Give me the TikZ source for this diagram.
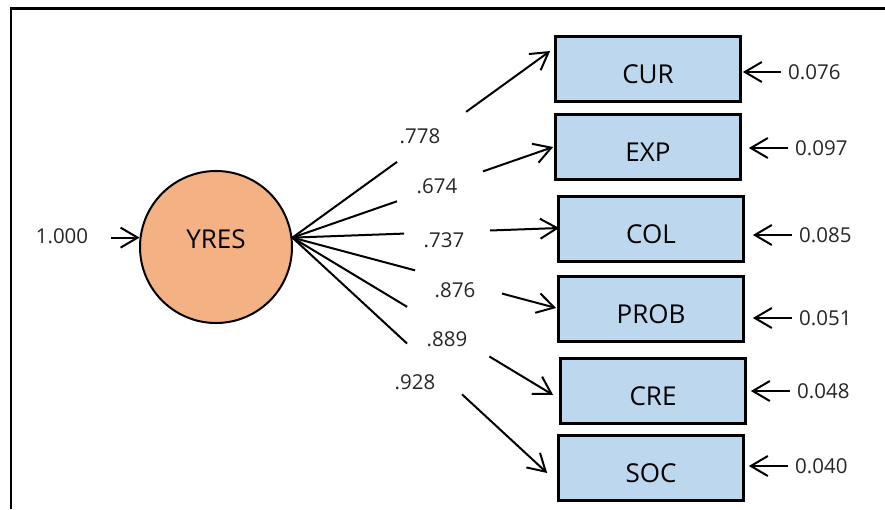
\documentclass[tikz,border=0pt]{standalone}
\usepackage{fontspec}
\setmainfont{Open Sans}
\usepackage{tikz}
\usetikzlibrary{arrows.meta,calc}

\definecolor{latentfill}{HTML}{F4B183}
\definecolor{obsfill}{HTML}{BDD7EE}

\begin{document}
\begin{tikzpicture}[
	x=1pt, y=-1pt,
	latent/.style={circle, draw, line width=2pt, fill=latentfill,
		minimum size=152pt, inner sep=0pt,
		font=\fontsize{26}{30}\selectfont, text height=18.5pt, text depth=15pt},
	obs/.style={rectangle, draw, line width=2.7pt, fill=obsfill,
		minimum width=185pt, minimum height=65pt, inner sep=0pt,
		font=\fontsize{26}{30}\selectfont, text height=28.5pt, text depth=0pt},
	coef/.style={font=\fontsize{20.5}{24}\selectfont, text=black!85},
	errv/.style={coef, anchor=west, inner sep=7pt},
	path/.style={line width=2pt},
	arr/.style={path, -{Straight Barb[length=17pt,width=20pt]}}
	]
	
	\useasboundingbox (0,0) rectangle (885,509);
	\draw[line width=2.7pt] (11,509) -- (11,8.5) -- (885,8.5);
	
	% latent factor and indicators
	\node[latent] (yres) at (216,247) {YRES};
	
	\node[obs] (cur) at (648,69) {CUR};
	\node[obs] (exp) at (648,147) {EXP};
	\node[obs] (col) at (651,229) {COL};
	\node[obs] (prob) at (651,309) {PROB};
	\node[obs] (cre) at (653,391) {CRE};
	\node[obs] (soc) at (651,468) {SOC};
	
	% where the loading arrows hit the boxes
	\coordinate (tcur) at ([shift={(-4,-18)}]cur.west);
	\coordinate (texp) at ([shift={(-1,0)}]exp.west);
	\coordinate (tcol) at ([shift={(2,-1)}]col.west);
	\coordinate (tprob) at ([shift={(-1,-1)}]prob.west);
	\coordinate (tcre) at ([shift={(-6,4)}]cre.west);
	\coordinate (tsoc) at ([shift={(-10,5)}]soc.west);
	
	% loadings, broken where the value sits
	\foreach \b/\p/\q in {cur/.406/.674, exp/.401/.731, col/.419/.741,
		prob/.465/.795, cre/.440/.755, soc/.450/.666}
	{
		\draw[path] (yres.7) -- ($(yres.7)!\p!(t\b)$);
		\draw[arr] ($(yres.7)!\q!(t\b)$) -- (t\b);
	}
	
	\node[coef] (lcur) at (420,136) {.778};
	\node[coef] (lexp) at (437,186) {.674};
	\node[coef] (lcol) at (444,240) {.737};
	\node[coef] (lprob) at (455,290) {.876};
	\node[coef] (lcre) at (447,339) {.889};
	\node[coef] (lsoc) at (415,382) {.928};
	
	% error variances
	\foreach \b/\v/\x/\y/\s in {cur/0.076/781/72/1pt, exp/0.097/788/148/7pt,
		col/0.085/792/235/8pt, prob/0.051/792/318/8pt,
		cre/0.048/790/391/4pt, soc/0.040/788/466/4pt}
	{
		\node[errv] (e\b) at (\x,\y) {\v};
		\draw[arr, shorten >=\s] (e\b) -- (e\b -| \b.east);
	}
	
	\node[coef] (vyres) at (62,236) {1.000};
	\draw[arr] ([xshift=19pt]vyres.east |- yres.173) -- (yres.173);
	
\end{tikzpicture}
\end{document}
